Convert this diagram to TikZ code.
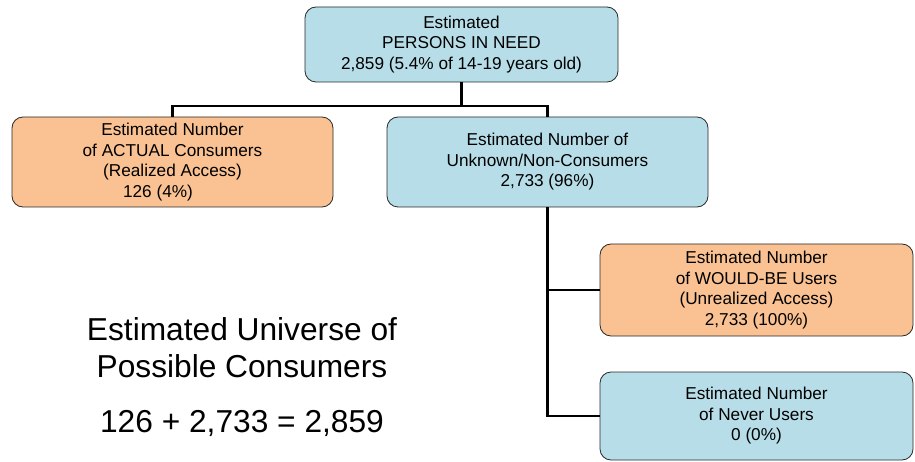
\documentclass[tikz,border=0pt]{standalone}
\usepackage{fontspec}
\setmainfont{Liberation Sans}
\usetikzlibrary{positioning,calc}
\definecolor{boxblue}{RGB}{183,222,232}
\definecolor{boxorange}{RGB}{250,194,146}
\definecolor{boxedge}{RGB}{40,40,40}

\begin{document}
\begin{tikzpicture}[x=1pt, y=-1pt,
    box/.style={rectangle, draw=boxedge, line width=0.8pt, rounded corners=11pt,
                align=center, inner sep=0pt, font=\fontsize{17.2}{20.5}\selectfont},
    bluebox/.style={box, fill=boxblue},
    orangebox/.style={box, fill=boxorange},
    conn/.style={line width=2.8pt, black},
    bigtext/.style={align=center, font=\fontsize{31.7}{37}\selectfont}]
\useasboundingbox (0,0) rectangle (915,462);
% top of the tree
\node[bluebox, minimum width=313pt, minimum height=75pt] (need) at (461.5,44.5)
  {Estimated\\PERSONS IN NEED\\2,859 (5.4\% of 14-19 years old)};
% second row
\node[orangebox, minimum width=321pt, minimum height=90pt] (actual) at (172.5,162)
  {Estimated Number\\of ACTUAL Consumers\\(Realized Access)\\126 (4\%)\hspace*{29pt}};
\node[bluebox, minimum width=321pt, minimum height=90pt] (unknown) at (547.5,162)
  {Estimated Number of\\Unknown/Non-Consumers\\2,733 (96\%)};
% right column
\node[orangebox, minimum width=313pt, minimum height=92pt] (wouldbe) at (756.5,290)
  {Estimated Number\\of WOULD-BE Users\\(Unrealized Access)\\2,733 (100\%)};
\node[bluebox, minimum width=313pt, minimum height=88pt] (never) at (756.5,416)
  {Estimated Number\\of Never Users\\0 (0\%)};
% connectors
\coordinate (bar) at (461.5,106);
\draw[conn] (need.south) -- (bar);
\draw[conn] (actual.north) |- (bar) -| (unknown.north);
\draw[conn] (unknown.south) |- (wouldbe.west);
\draw[conn] (unknown.south) |- (never.west);
% summary text
\node[bigtext] (universe) at (242,348) {Estimated Universe of\\Possible Consumers};
\node[bigtext, anchor=base] (sum) at (242,432) {126 + 2,733 = 2,859};
\end{tikzpicture}
\end{document}
